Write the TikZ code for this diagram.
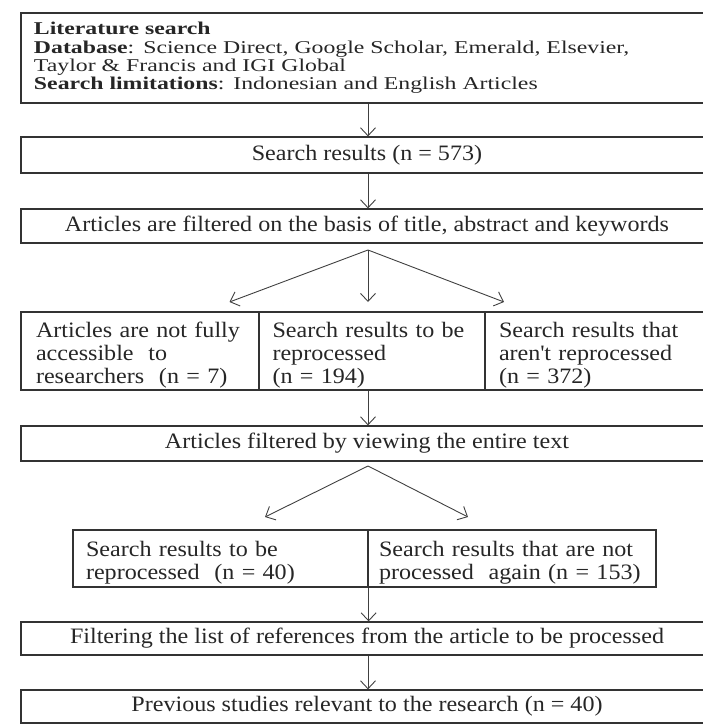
\documentclass[tikz,border=0pt]{standalone}
\usepackage{fontspec}
\setmainfont[FakeStretch=1.095]{Liberation Serif}
\newfontfamily\headfont[FakeStretch=1.32]{Liberation Serif}
\usetikzlibrary{arrows.meta}
\newcommand{\cellstrut}{\rule{0pt}{23pt}}% pushes cell text a little down

\tikzset{
  box/.style={draw=black!80, line width=1.2pt, text=black!85, inner sep=0pt,
    font=\fontsize{22}{23}\selectfont},
  wide/.style={box, minimum width=692pt},
  cell/.style={box, align=left},
  arr/.style={draw=black!75, line width=0.9pt, -{Straight Barb[length=8pt,width=15pt]}}
}

\begin{document}
\begin{tikzpicture}[x=1pt,y=-1pt]
\useasboundingbox (0,0) rectangle (703,724);
\clip (0,0) rectangle (703,724);

\node[wide, minimum height=90pt, text width=666pt, align=left,
  font=\headfont\fontsize{18}{18.3}\selectfont] (search) at (367,58)
  {\textbf{Literature search}\\
   \textbf{Database}: Science Direct, Google Scholar, Emerald, Elsevier,\\
   Taylor \& Francis and IGI Global\\
   \textbf{Search limitations}: Indonesian and English Articles};

\node[wide, minimum height=36pt] (results) at (367,155)
  {Search results (n = 573)};
\node[wide, minimum height=34pt] (screen) at (367,226)
  {Articles are filtered on the basis of title, abstract and keywords};

% three outcomes of the first screening
\node[cell, minimum width=238pt, minimum height=78pt, text width=208pt] (noaccess) at (140,351)
  {\cellstrut Articles are not fully\\ accessible\ \ to\\ researchers\ \ (n = 7)};
\node[cell, minimum width=226pt, minimum height=78pt, text width=199pt] (redo) at (372,351)
  {\cellstrut Search results to be\\ reprocessed\\ (n = 194)};
\node[cell, minimum width=228pt, minimum height=78pt, text width=200pt] (notredo) at (599,351)
  {\cellstrut Search results that\\ aren\textquotesingle t reprocessed\\ (n = 372)};

\node[wide, minimum height=35pt] (fulltext) at (367,443.5)
  {Articles filtered by viewing the entire text};

% two outcomes of the full text check
\node[cell, minimum width=295pt, minimum height=57pt, text width=269pt] (kept) at (220.5,558.5)
  {\cellstrut Search results to be\\ reprocessed\ \ (n = 40)};
\node[cell, minimum width=288pt, minimum height=57pt, text width=266pt] (dropped) at (512,558.5)
  {\cellstrut Search results that are not\\ processed\ \ again (n = 153)};

\node[wide, minimum height=33pt] (reflist) at (367,638.5)
  {Filtering the list of references from the article to be processed};
\node[wide, minimum height=33pt] (final) at (367,706.5)
  {Previous studies relevant to the research (n = 40)};

\coordinate (fork1) at (368,250);
\coordinate (tipA) at (229.5,302);
\coordinate (tipB) at (368,302);
\coordinate (tipC) at (504,302);
\coordinate (fork2) at (368,466);
\coordinate (tipD) at (265,517);
\coordinate (tipE) at (468,517);

\draw[arr] (search.south -| fork1) -- (results.north -| fork1);
\draw[arr] (results.south -| fork1) -- (screen.north -| fork1);
\draw[arr] (fork1) -- (tipA);
\draw[arr] (fork1) -- (tipB);
\draw[arr] (fork1) -- (tipC);
\draw[arr] (redo.south -| fork1) -- (fulltext.north -| fork1);
\draw[arr] (fork2) -- (tipD);
\draw[arr] (fork2) -- (tipE);
\draw[arr] (kept.south east) -- (reflist.north -| kept.south east);
\draw[arr] (reflist.south -| fork1) -- (final.north -| fork1);

\end{tikzpicture}
\end{document}
